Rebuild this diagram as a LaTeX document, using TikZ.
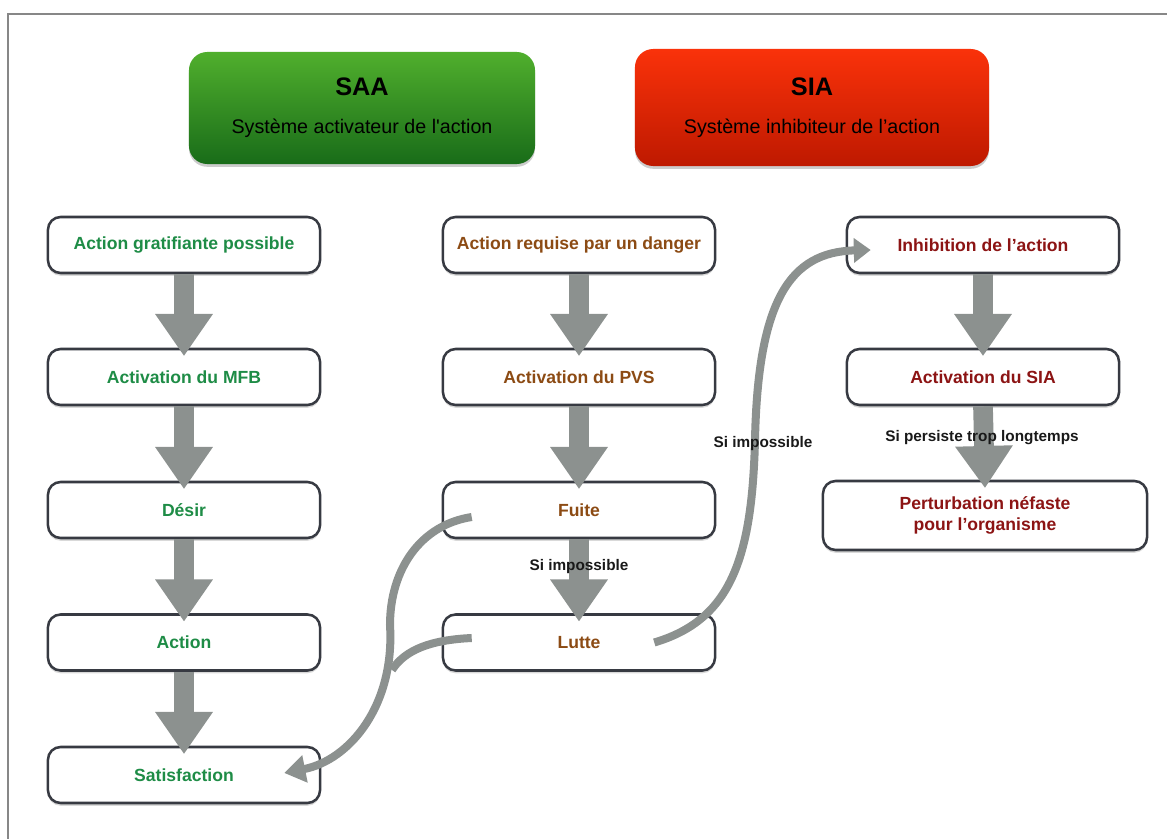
\documentclass[tikz,border=0pt]{standalone}
\usepackage{fontspec}
\setmainfont{Liberation Sans}
\usetikzlibrary{arrows.meta,shadows,calc}
\definecolor{saagreen}{RGB}{30,140,70}
\definecolor{pvsbrown}{RGB}{140,75,20}
\definecolor{siared}{RGB}{140,20,20}
\definecolor{flowgray}{RGB}{140,145,143}
\definecolor{boxline}{RGB}{55,58,66}
\definecolor{framegray}{RGB}{135,135,135}
\begin{document}
\begin{tikzpicture}[x=0.025cm,y=-0.025cm,
	box/.style={draw=boxline,line width=1.8pt,rounded corners=9pt,fill=white,
		minimum width=6.8cm,minimum height=1.4cm,align=center,
		font=\fontsize{12.5}{15}\selectfont\bfseries,
		drop shadow={opacity=.3,shadow xshift=0pt,shadow yshift=-2pt}},
	head/.style={rounded corners=13pt,align=center,text=black,
		font=\fontsize{14}{27}\selectfont,
		drop shadow={opacity=.4,shadow xshift=0pt,shadow yshift=-2pt}},
	fat/.style={draw=flowgray,line width=14pt,-{Triangle[width=39pt,length=30pt]}},
	curve/.style={draw=flowgray,line width=5.7pt},
	tag/.style={font=\fontsize{10.9}{13}\selectfont\bfseries,text={rgb,255:red,25;green,25;blue,25}}]
	\useasboundingbox (0,0) rectangle (1167,839);
	\draw[framegray,line width=1.5pt] (8,839)--(8,14)--(1167,14);
	% en-tetes
	\node[head,top color={rgb,255:red,80;green,175;blue,45},bottom color={rgb,255:red,25;green,108;blue,25},
		minimum width=8.65cm,minimum height=2.8cm] (saa) at (362,108)
		{{\fontsize{18}{27}\selectfont\bfseries SAA}\\Système activateur de l\textquotesingle action};
	\node[head,top color={rgb,255:red,250;green,50;blue,10},bottom color={rgb,255:red,190;green,25;blue,0},
		minimum width=8.85cm,minimum height=2.925cm] (sia) at (812,107.5)
		{{\fontsize{18}{27}\selectfont\bfseries SIA}\\Système inhibiteur de l’action};
	% colonne SAA
	\node[box,text=saagreen] (g1) at (184,245){Action gratifiante possible};
	\node[box,text=saagreen] (g2) at (184,377){Activation du MFB};
	\node[box,text=saagreen] (g3) at (184,510){Désir};
	\node[box,text=saagreen] (g4) at (184,642.5){Action};
	\node[box,text=saagreen] (g5) at (184,775){Satisfaction};
	% colonne PVS
	\node[box,text=pvsbrown] (b1) at (579,245){Action requise par un danger};
	\node[box,text=pvsbrown] (b2) at (579,377){Activation du PVS};
	\node[box,text=pvsbrown] (b3) at (579,510){Fuite};
	\node[box,text=pvsbrown] (b4) at (579,642.5){Lutte};
	% colonne SIA
	\node[box,text=siared] (r1) at (983,245){Inhibition de l’action};
	\node[box,text=siared] (r2) at (983,377){Activation du SIA};
	\node[box,text=siared,minimum width=8.1cm,minimum height=1.725cm] (r3) at (985,515.5)
		{Perturbation néfaste\\pour l’organisme};
	\draw[fat] (g1.south)--([yshift=-6pt]g2.north);
	\draw[fat] (g2.south)--([yshift=-6pt]g3.north);
	\draw[fat] (g3.south)--([yshift=-6pt]g4.north);
	\draw[fat] (g4.south)--([yshift=-6pt]g5.north);
	\draw[fat] (b1.south)--([yshift=-6pt]b2.north);
	\draw[fat] (b2.south)--([yshift=-6pt]b3.north);
	\draw[fat] (b3.south)--([yshift=-6pt]b4.north);
	\draw[fat] (r1.south)--([yshift=-6pt]r2.north);
	\draw[fat] (r2.south)--([yshift=-6pt]r3.north);
	% fuite / lutte vers satisfaction
	\coordinate (m) at (392,670);
	\draw[curve,-{Triangle[width=19pt,length=15pt]}] ($(b3.west)+(30,7)$) .. controls (420,525) and (390,570) .. (390,625)
		.. controls (395,705) and (350,760) .. ($(g5.east)+(-37,-2)$);
	\draw[curve] ($(b4.west)+(30,-4.5)$) .. controls (430,640) and (405,650) .. (m);
	% lutte vers inhibition
	\draw[curve,-{Triangle[width=17pt,length=12pt]}] ($(b4.east)+(-62,0)$) .. controls (730,620) and (752,560) .. (755,440)
		.. controls (758,300) and (790,252) .. ($(r1.west)+(25,5)$);
	\node[tag] (t1) at (579,567){Si impossible};
	\node[tag] (t2) at (763,444){Si impossible};
	\node[tag] (t3) at (982,438){Si persiste trop longtemps};
\end{tikzpicture}
\end{document}
